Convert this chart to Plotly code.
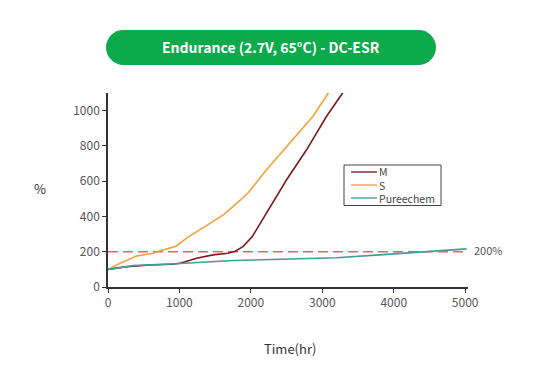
import plotly.graph_objects as go

# ---- data ----
m_x = [0, 260, 590, 890, 1010, 1240, 1470, 1680, 1780, 1890, 2020, 2200, 2350, 2500, 2780, 3060, 3280, 3330]
m_y = [100, 115, 125, 129, 135, 163, 182, 191, 203, 229, 286, 405, 505, 608, 778, 968, 1097, 1135]

s_x = [0, 170, 400, 630, 700, 960, 1100, 1300, 1500, 1620, 1840, 1960, 2220, 2590, 2870, 3080, 3120]
s_y = [100, 135, 176, 191, 201, 233, 277, 328, 381, 410, 488, 533, 665, 835, 968, 1097, 1125]

p_x = [0, 350, 1010, 1750, 2400, 3200, 3800, 4500, 5020]
p_y = [100, 121, 133, 150, 157, 166, 182, 200, 216]

series_names = ["M", "S", "Pureechem"]
series_colors = ["#7E1A1E", "#F2A236", "#3E9E9A"]
threshold = 200
threshold_label = "200%"
x_ticks = [0, 1000, 2000, 3000, 4000, 5000]
y_ticks = [0, 200, 400, 600, 800, 1000]
title_text = "Endurance (2.7V, 65°C) - DC-ESR"

FONT = "Noto Sans CJK KR"
OFF = 8  # page body margin

# plot area in reference-picture pixels
L, T, W, H = 108, 93, 360, 194
def px(x):
    return (x - L) / W
def py(y):
    return (T + H - y) / H

fig = go.Figure()
for xs, ys, nm, col in zip([m_x, s_x, p_x], [m_y, s_y, p_y], series_names, series_colors):
    fig.add_trace(go.Scatter(x=xs, y=ys, mode="lines", name=nm,
                             line=dict(color=col, width=1.6), showlegend=False))

# threshold line
fig.add_shape(type="line", xref="paper", yref="y", x0=0, x1=1, y0=threshold, y1=threshold,
              line=dict(color="#F25F66", width=1.3, dash="10px,5px"), layer="below")
fig.add_annotation(xref="paper", yref="y", x=1.0, y=threshold, text=threshold_label,
                   showarrow=False, xanchor="left", yanchor="middle", xshift=4, yshift=2,
                   font=dict(family=FONT, size=11, color="#555555"))

# title pill
x0, x1, y0, y1, r = 106, 436, 30, 65, 17.5
k = 0.5523 * r
path = (f"M {px(x0+r)},{py(y0)} L {px(x1-r)},{py(y0)} "
        f"C {px(x1-r+k)},{py(y0)} {px(x1)},{py(y0+r-k)} {px(x1)},{py(y0+r)} "
        f"C {px(x1)},{py(y1-r+k)} {px(x1-r+k)},{py(y1)} {px(x1-r)},{py(y1)} "
        f"L {px(x0+r)},{py(y1)} "
        f"C {px(x0+r-k)},{py(y1)} {px(x0)},{py(y1-r+k)} {px(x0)},{py(y1-r)} "
        f"C {px(x0)},{py(y0+r-k)} {px(x0+r-k)},{py(y0)} {px(x0+r)},{py(y0)} Z")
fig.add_shape(type="path", xref="paper", yref="paper", path=path,
              fillcolor="#0DAA4C", line=dict(width=0))
fig.add_annotation(xref="paper", yref="paper", x=px(271), y=py(47.5), text=f"<b>{title_text}</b>",
                   showarrow=False, xanchor="center", yanchor="middle",
                   font=dict(family=FONT, size=14, color="white"))

# axis titles
fig.add_annotation(xref="paper", yref="paper", x=px(40), y=py(188), text="%",
                   showarrow=False, xanchor="center", yanchor="middle",
                   font=dict(family=FONT, size=13, color="#333333"))
fig.add_annotation(xref="paper", yref="paper", x=px(290), y=py(348), text="Time(hr)",
                   showarrow=False, xanchor="center", yanchor="middle",
                   font=dict(family=FONT, size=13, color="#333333"))

# compact legend box
fig.add_shape(type="rect", xref="paper", yref="paper",
              x0=px(344), x1=px(441), y0=py(165), y1=py(205.5),
              line=dict(color="#444444", width=1), fillcolor="white")
item_y = [172, 185, 198]
for col, iy in zip(series_colors, item_y):
    fig.add_shape(type="line", xref="paper", yref="paper",
                  x0=px(351), x1=px(377), y0=py(iy), y1=py(iy),
                  line=dict(color=col, width=1.8), opacity=0.75)
fig.add_annotation(xref="paper", yref="paper", x=px(379), y=py(185), text="<br>".join(series_names),
                   showarrow=False, xanchor="left", yanchor="middle", align="left",
                   borderpad=0, borderwidth=0,
                   font=dict(family=FONT, size=10.5, color="#444444"))

fig.update_layout(
    width=541 - OFF, height=381 - OFF,
    margin=dict(l=L - OFF, r=541 - L - W, t=T - OFF, b=381 - T - H, autoexpand=False),
    paper_bgcolor="white", plot_bgcolor="white",
    font=dict(family=FONT, size=12, color="#555555"),
    showlegend=False,
)
fig.update_xaxes(range=[0, 5040], tickvals=x_ticks, showgrid=False, zeroline=False,
                 showline=True, linecolor="#333333", linewidth=1.5,
                 ticks="outside", ticklen=4, tickcolor="#333333",
                 tickfont=dict(family=FONT, size=12, color="#555555"))
fig.update_yaxes(range=[0, 1100], tickvals=y_ticks, showgrid=False, zeroline=False,
                 showline=True, linecolor="#333333", linewidth=1.5,
                 ticks="outside", ticklen=4, tickcolor="#333333",
                 tickfont=dict(family=FONT, size=12, color="#555555"))

fig.write_html("out.html")
